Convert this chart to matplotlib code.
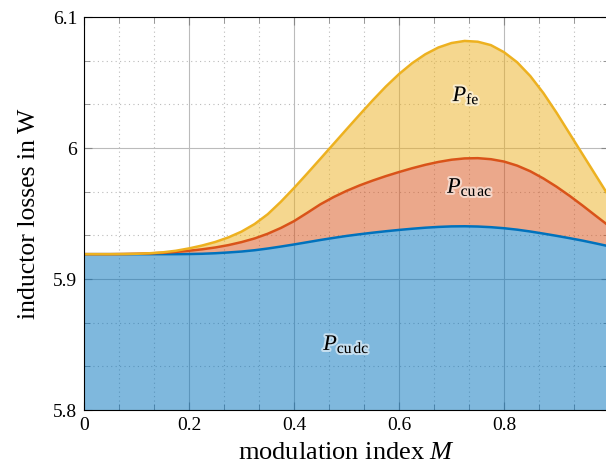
import numpy as np
import matplotlib
matplotlib.use("Agg")
import matplotlib.pyplot as plt
from matplotlib.ticker import AutoMinorLocator
import matplotlib.patheffects as pe

plt.rcParams['font.family'] = ['Liberation Serif', 'DejaVu Serif']
plt.rcParams['mathtext.fontset'] = 'custom'
plt.rcParams['mathtext.rm'] = 'Liberation Serif'
plt.rcParams['mathtext.it'] = 'Liberation Serif:italic'

# modulation index
M = np.linspace(0, 1, 41)
# top of each stacked layer (W)
p_dc = [5.9190, 5.9190, 5.9190, 5.9190, 5.9190, 5.9190, 5.9190, 5.9190, 5.9191, 5.9193,
        5.9197, 5.9203, 5.9210, 5.9220, 5.9233, 5.9248, 5.9264, 5.9281, 5.9298, 5.9314,
        5.9329, 5.9342, 5.9354, 5.9365, 5.9375, 5.9384, 5.9392, 5.9398, 5.9402, 5.9403,
        5.9401, 5.9396, 5.9388, 5.9377, 5.9363, 5.9347, 5.9330, 5.9312, 5.9293, 5.9272, 5.9250]
p_ac = [5.9190, 5.9190, 5.9190, 5.9191, 5.9193, 5.9196, 5.9200, 5.9207, 5.9216, 5.9227,
        5.9241, 5.9259, 5.9282, 5.9310, 5.9346, 5.9390, 5.9442, 5.9505, 5.9570, 5.9625,
        5.9673, 5.9715, 5.9752, 5.9786, 5.9817, 5.9846, 5.9872, 5.9894, 5.9911, 5.9921,
        5.9923, 5.9915, 5.9897, 5.9866, 5.9823, 5.9768, 5.9705, 5.9635, 5.9560, 5.9482, 5.9405]
p_fe = [5.9190, 5.9190, 5.9190, 5.9191, 5.9193, 5.9197, 5.9204, 5.9216, 5.9234, 5.9256,
        5.9283, 5.9318, 5.9362, 5.9420, 5.9495, 5.9590, 5.9695, 5.9805, 5.9917, 6.0030,
        6.0143, 6.0255, 6.0365, 6.0470, 6.0565, 6.0648, 6.0716, 6.0768, 6.0802, 6.0818,
        6.0812, 6.0786, 6.0732, 6.0655, 6.0550, 6.0420, 6.0270, 6.0110, 5.9950, 5.9790, 5.9630]

blue, red, yellow = '#0072BD', '#D95319', '#EDB120'

fig = plt.figure(figsize=(6.06, 4.75), dpi=100)
ax = fig.add_axes([0.1386, 0.1368, 0.8664, 0.8272])

ax.fill_between(M, 5.8, p_dc, color=blue, alpha=0.5, lw=0)
ax.fill_between(M, p_dc, p_ac, color=red, alpha=0.5, lw=0)
ax.fill_between(M, p_ac, p_fe, color=yellow, alpha=0.5, lw=0)
ax.plot(M, p_dc, color=blue, lw=1.8)
ax.plot(M, p_ac, color=red, lw=1.8)
ax.plot(M, p_fe, color=yellow, lw=1.8)

halo = [pe.withStroke(linewidth=3, foreground='white', alpha=0.55)]
ax.text(0.728, 6.040, r'$P_{\mathrm{fe}}$', fontsize=16, ha='center', va='center', path_effects=halo)
ax.text(0.735, 5.970, r'$P_{\mathrm{cu}\,\mathrm{ac}}$', fontsize=16, ha='center', va='center', path_effects=halo)
ax.text(0.500, 5.850, r'$P_{\mathrm{cu}\,\mathrm{dc}}$', fontsize=16, ha='center', va='center', path_effects=halo)

ax.set_xlim(0, 1)
ax.set_ylim(5.8, 6.1)
ax.set_xticks([0, 0.2, 0.4, 0.6, 0.8, 1.0], ['0', '0.2', '0.4', '0.6', '0.8', '1'])
ax.set_yticks([5.8, 5.9, 6.0, 6.1], ['5.8', '5.9', '6', '6.1'])
ax.xaxis.set_minor_locator(AutoMinorLocator(3))
ax.yaxis.set_minor_locator(AutoMinorLocator(3))

ax.grid(which='major', color='#bbbbbb', lw=0.8, ls='-')
ax.grid(which='minor', color='#bbbbbb', lw=0.8, ls=(0, (1, 3)))
ax.set_axisbelow(True)

ax.tick_params(which='both', direction='in', top=True, right=True, labelsize=14, color='#888888')
ax.tick_params(which='major', length=6, pad=5)
ax.tick_params(which='minor', length=4)

ax.set_xlabel(r'modulation index $M$', fontsize=19, labelpad=6)
ax.set_ylabel('inductor losses in W', fontsize=18.5, labelpad=9)

fig.savefig('out.png', dpi=100)
